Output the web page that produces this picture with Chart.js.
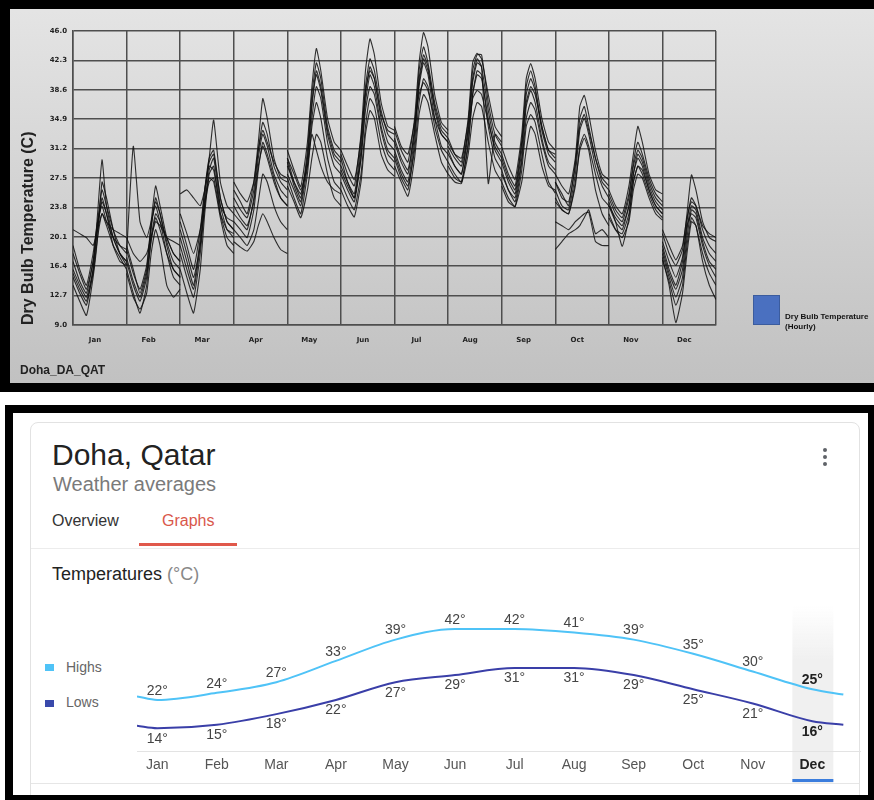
<!DOCTYPE html>
<html lang="en">
<head>
<meta charset="UTF-8" />
<title>Doha - Dry bulb temperature and weather averages</title>
<script src="https://cdn.jsdelivr.net/npm/chart.js@4.4.1/dist/chart.umd.min.js"></script>
<style>
  html, body { margin: 0; padding: 0; background: #fff; }
  body { width: 874px; height: 800px; position: relative; overflow: hidden; font-family: "Liberation Sans", Arial, sans-serif; }
  .abs { position: absolute; white-space: nowrap; }
  #topBg { left: 0; top: 0; width: 874px; height: 392px; background: linear-gradient(#e5e5e5, #c0c0c0); }
  #topFrame { left: 0; top: 0; width: 874px; height: 392px; box-sizing: border-box; border-left: 10px solid #000; border-top: 9px solid #000; border-bottom: 9px solid #000; z-index: 10; }
  #dbtChart { left: 10px; top: 9px; }
  #siteName { left: 20px; top: 363px; font: bold 12px "Liberation Sans", Arial, sans-serif; color: #222; }
  #dbtKey { left: 753px; top: 295px; width: 27px; height: 30px; background: #4a70c0; border: 1px solid #3b5c9e; box-sizing: border-box; }
  #dbtKeyText { left: 785px; top: 312px; font: bold 8px/10px "Liberation Sans", Arial, sans-serif; color: #111; }

  #botBg { left: 5px; top: 405px; width: 869px; height: 395px; background: #fff; }
  #botFrame { left: 5px; top: 405px; width: 869px; height: 395px; box-sizing: border-box; border-top: 8px solid #000; border-left: 8px solid #000; border-right: 6px solid #000; border-bottom: 5px solid #000; z-index: 10; }
  #card { left: 30px; top: 422px; width: 830px; height: 390px; box-sizing: border-box; border: 1px solid #e2e2e2; border-radius: 8px; }
  #city { left: 52px; top: 440px; font-size: 30px; line-height: 30px; color: #222; }
  #sub { left: 53px; top: 474px; font-size: 20px; line-height: 20px; color: #7a7a7a; }
  #tabOverview { left: 52px; top: 513px; font-size: 16px; line-height: 16px; color: #333; }
  #tabGraphs { left: 162px; top: 513px; font-size: 16px; line-height: 16px; color: #d9574b; }
  #tabLine { left: 139px; top: 543px; width: 98px; height: 3px; background: #e0584b; }
  #divider { left: 31px; top: 548px; width: 828px; height: 1px; background: #ececec; }
  #tempTitle { left: 52px; top: 565px; font-size: 18px; line-height: 18px; color: #222; }
  #tempTitle span { color: #888; }
  .dot { width: 4px; height: 4px; border-radius: 50%; background: #5f6368; left: 823px; }
  .key { width: 9px; height: 7px; left: 45px; }
  .keyText { left: 66px; font-size: 14px; line-height: 14px; color: #666; }
  #bottomRule { left: 31px; top: 783px; width: 828px; height: 1px; background: #e6e6e6; }
  #avgChart { left: 130px; top: 590px; }
</style>
</head>
<body>
  <!-- top panel: hourly dry bulb temperature, every day overlaid per month -->
  <div id="topBg" class="abs"></div>
  <canvas id="dbtChart" class="abs" width="864" height="374"></canvas>
  <div id="siteName" class="abs">Doha_DA_QAT</div>
  <div id="dbtKey" class="abs"></div>
  <div id="dbtKeyText" class="abs">Dry Bulb Temperature<br>(Hourly)</div>
  <div id="topFrame" class="abs"></div>

  <!-- bottom panel: weather averages card -->
  <div id="botBg" class="abs"></div>
  <div id="card" class="abs"></div>
  <div id="city" class="abs">Doha, Qatar</div>
  <div id="sub" class="abs">Weather averages</div>
  <div id="tabOverview" class="abs">Overview</div>
  <div id="tabGraphs" class="abs">Graphs</div>
  <div id="tabLine" class="abs"></div>
  <div id="divider" class="abs"></div>
  <div id="tempTitle" class="abs">Temperatures <span>(°C)</span></div>
  <div class="abs dot" style="top:448px"></div>
  <div class="abs dot" style="top:455px"></div>
  <div class="abs dot" style="top:462px"></div>
  <div class="abs key" style="top:664px;background:#4fc3f7"></div>
  <div class="abs keyText" style="top:660px">Highs</div>
  <div class="abs key" style="top:700px;background:#3949ab"></div>
  <div class="abs keyText" style="top:695px">Lows</div>
  <div id="bottomRule" class="abs"></div>
  <canvas id="avgChart" class="abs" width="735" height="200"></canvas>
  <div id="botFrame" class="abs"></div>

<script>
  // ---- top chart data: hour of day and one row per sample day ----
  const hours = [0, 3, 6, 9, 11, 13, 15, 18, 21, 24];
  const monthNames = ['Jan', 'Feb', 'Mar', 'Apr', 'May', 'Jun', 'Jul', 'Aug', 'Sep', 'Oct', 'Nov', 'Dec'];
  const yTicks = [9.0, 12.7, 16.4, 20.1, 23.8, 27.5, 31.2, 34.9, 38.6, 42.3, 46.0];

  const janDays = [
    [17, 14.5, 13, 17, 22, 26, 24, 21, 19, 18],
    [15, 13, 11.5, 16, 21, 25, 23, 20, 18, 17],
    [19, 16, 14, 18, 22, 24, 22, 20, 19, 18.5],
    [14, 12, 10.2, 15, 20, 27, 25, 21, 18, 16.5],
    [21, 20.5, 20, 19, 21, 23, 22, 21, 20.5, 20],
    [16, 14, 12.5, 16, 23, 29.8, 24, 20, 18, 17],
    [18, 15.5, 13.5, 17, 21.5, 24.5, 23, 19, 17, 16.5],
    [15.5, 13.5, 12, 15.5, 20, 23, 21.5, 19, 17.5, 16]
  ];
  const febDays = [
    [18, 31.5, 22, 20, 22, 24, 22, 20, 18, 17],
    [17, 14, 12, 15, 21, 25, 23, 19, 16, 15],
    [19, 16, 13, 16, 22, 26.5, 24, 20, 18, 17],
    [16, 13, 10.5, 14, 20, 23, 22, 18, 15, 14],
    [20, 18, 17, 18, 20, 22, 21.5, 20, 19.5, 19],
    [15.5, 12.5, 11, 13, 18, 21, 19, 14, 12.5, 13.5],
    [18.5, 15.5, 13.5, 16.5, 21.5, 24.5, 23, 19.5, 17, 16],
    [17.5, 14.5, 12.5, 15.5, 19.5, 22.5, 21, 18, 16, 15]
  ];
  const marDays = [
    [20, 17, 14, 20, 26, 30, 31, 25, 22, 21],
    [18, 15, 12.5, 18, 24, 28.5, 30, 24, 21, 20],
    [22, 19, 16, 21, 26, 29, 28.5, 24, 22.5, 22],
    [16, 13, 10.5, 16, 23, 28, 29, 23, 20, 19],
    [25.5, 26, 25, 24, 26, 30, 34.8, 27, 24, 23],
    [21, 18, 15, 19, 24, 27, 27.5, 23, 21, 20.5],
    [19, 16, 13.5, 19, 25, 29.5, 30.5, 25, 22, 21],
    [23, 20.5, 18, 21, 24.5, 27.5, 27, 22.5, 19, 18]
  ];
  const aprDays = [
    [25, 23.5, 22.5, 26, 31, 34.5, 33, 29, 27, 26],
    [23, 22, 21, 25, 30, 33, 31.5, 28, 26, 25],
    [26, 24.5, 23, 27, 32, 37.5, 35, 30, 27.5, 27],
    [24, 22.5, 21.5, 24.5, 29, 31.5, 30, 27, 25, 24],
    [19.5, 18.8, 18.3, 19.5, 21.5, 23, 22, 20, 18.5, 18],
    [22, 21, 20, 23.5, 28.5, 32, 30.5, 27.5, 25, 24],
    [27, 25.5, 24.5, 27, 31, 33.5, 32, 29.5, 28, 27.5],
    [21, 20, 19, 21, 24.5, 28, 27, 24, 22, 21]
  ];
  const mayDays = [
    [30, 27, 25, 31, 38, 42, 40, 34, 31, 30],
    [28, 26, 24, 29, 35, 39, 37.5, 32, 29, 28],
    [31, 28.5, 26.4, 32, 39, 43.8, 41, 35, 32, 31],
    [27.5, 25, 23, 28, 34, 37, 35, 30, 27, 26],
    [29, 27, 25.5, 30, 36.5, 40.5, 38.5, 33, 30, 29],
    [26.5, 24.5, 22.5, 26, 30, 33, 32, 28, 25, 24],
    [30, 28, 26, 29, 33, 31, 29, 27, 26, 25.5],
    [29.5, 26.5, 24.5, 30, 37, 41, 39, 33.5, 30.5, 29.5]
  ];
  const junDays = [
    [30, 27, 25.5, 32, 39, 42.5, 41, 36, 33, 32],
    [28, 26, 24.5, 30, 37, 40.5, 39, 34, 31, 30],
    [30.5, 28, 26.5, 33, 41, 45, 43, 37, 34, 33.5],
    [27, 25, 23.5, 28, 34, 37.5, 36.5, 32, 29.5, 28.5],
    [29, 27, 25, 31, 38, 41.5, 40, 35, 32, 31],
    [26, 24, 22.6, 27, 33, 36, 35, 30.5, 28.5, 27.7],
    [31, 29, 27.3, 32.5, 38.5, 41, 40, 35.5, 33.5, 33],
    [28.5, 26.5, 25, 30, 36, 39, 38, 33.5, 30.5, 29.5]
  ];
  const julDays = [
    [32, 29.5, 28, 34, 41, 44, 42, 37, 34, 33],
    [30, 27.5, 26, 32, 39, 42, 40.5, 35, 31.5, 30.5],
    [33.5, 31, 29.5, 35, 42, 45.8, 44, 38, 34.5, 33.5],
    [29, 27, 25.2, 30, 35.5, 38, 37, 33, 29.5, 28],
    [31, 28.5, 27, 33, 40, 43, 41.5, 36, 33, 32],
    [34, 31.5, 30.5, 34.5, 38, 39.5, 38.5, 35, 33, 32],
    [30.5, 28, 26.5, 31, 37, 40, 39, 34, 31, 29.5],
    [32.5, 30, 28.5, 33.5, 39.5, 42.5, 41, 36.5, 33.5, 32.5]
  ];
  const augDays = [
    [31, 29, 28, 34, 41, 43, 43, 37, 33, 31.5],
    [29.5, 28, 27, 32, 38, 40.5, 40, 35, 31, 29.5],
    [32.5, 30.5, 29.5, 35, 42, 43.2, 42.5, 38, 34, 32.7],
    [28, 27, 26.8, 30.5, 35, 37, 36.5, 32, 28.5, 27],
    [30.5, 29, 28, 33, 39.5, 42, 41.5, 36, 32, 30.5],
    [31.5, 30, 29, 33.5, 37.5, 38.5, 38, 34.5, 31.5, 30],
    [29, 27.5, 27, 31.5, 38, 41, 40.5, 34, 30, 28.5],
    [32, 30.5, 30, 34.5, 40, 42.5, 41.5, 26.8, 33, 32]
  ];
  const sepDays = [
    [30, 27.5, 26, 32, 39, 41, 39, 34, 31, 30],
    [28.5, 26, 25, 30, 36.5, 38.5, 37, 32.5, 29.5, 28.5],
    [31.4, 29, 27.3, 33, 40, 41.9, 40, 35, 32, 31],
    [27, 25, 23.9, 28.5, 34, 35.5, 34.5, 30.5, 27, 25.6],
    [29.5, 27, 25.5, 31, 38, 40, 38.5, 33.5, 30.5, 29.5],
    [26.5, 24.5, 23.9, 27, 31, 34, 33, 29, 26.5, 26],
    [30.5, 28, 26.5, 32, 37, 39, 38, 34, 31, 30.5],
    [28, 26, 24.5, 29.5, 35, 37, 36, 32, 29, 28]
  ];
  const octDays = [
    [27, 25, 24.5, 29, 35, 36.5, 34, 30, 27.5, 26.5],
    [26, 24, 23.5, 28, 33.5, 35, 33, 29, 26.5, 25],
    [28, 26.5, 25.5, 30, 36.5, 37.9, 35.5, 31, 28, 27.3],
    [25, 23.5, 23, 26.5, 31.5, 33, 31.5, 28, 25, 24],
    [18.5, 19.5, 20.5, 21, 21.5, 22.5, 23.5, 20.5, 21, 20],
    [22, 21.5, 21, 22, 22.5, 23, 23.2, 19.5, 19, 19],
    [27, 25.5, 24, 29.5, 34, 35.5, 33.5, 30, 27, 26],
    [24.5, 23.5, 23, 27, 31, 32.5, 31, 26, 23, 21.5]
  ];
  const novDays = [
    [25, 23, 22, 25, 29, 31, 30, 27, 25, 24],
    [24, 22, 21, 24, 28, 30, 29, 26, 24, 23],
    [26, 24, 23, 26.5, 30.5, 34, 32, 28, 26, 25.5],
    [23, 21, 20, 22, 26, 28, 27.5, 25, 23, 22.2],
    [24.5, 22, 18.9, 22.5, 27, 29, 28.5, 26, 24, 23],
    [25.5, 23.5, 22.5, 25.5, 29.5, 32, 30.5, 27.5, 25.5, 24.5],
    [22.5, 21, 20.5, 23, 27, 29, 28, 25.5, 23.5, 22.5],
    [24, 22.5, 21.5, 24, 28, 30.5, 29.5, 26.5, 24.5, 23.5]
  ];
  const decDays = [
    [19, 16, 14, 17, 22, 25, 24, 21, 19, 18],
    [18, 15, 12.5, 15, 20, 23.5, 23, 19.5, 17, 16],
    [20.5, 18, 16.5, 18.5, 23, 27.9, 26, 22, 20, 19.5],
    [17.5, 14, 9.3, 13, 18, 22, 21.5, 17, 14, 12.2],
    [21, 19, 17.2, 19, 22.5, 24.5, 24, 21.5, 20.5, 20],
    [18.5, 15.5, 13.5, 16, 21, 24, 23.5, 20, 18, 17],
    [19.5, 17, 15, 17.5, 21.5, 23, 22.5, 19, 16.5, 15],
    [17.2, 14.5, 11.5, 14, 19, 22.5, 21.5, 18, 15.5, 14]
  ];
  const dayTraces = [janDays, febDays, marDays, aprDays, mayDays, junDays,
                     julDays, augDays, sepDays, octDays, novDays, decDays];

  // ---- bottom chart data: monthly averages (deg C) ----
  const highs = [22, 24, 27, 33, 39, 42, 42, 41, 39, 35, 30, 25];
  const lows = [14, 15, 18, 22, 27, 29, 31, 31, 29, 25, 21, 16];
  // line runs a little past Jan and Dec on both sides
  const edgeX = [-0.34, 11.52];
  const highsEdge = [23, 23.5];
  const lowsEdge = [14.7, 15];

  // ---- top chart ----
  const traceSets = [];
  dayTraces.forEach((days, m) => {
    days.forEach(day => {
      traceSets.push({
        data: day.map((t, i) => ({ x: m + hours[i] / 24, y: t })),
        borderColor: 'rgba(15,15,15,0.85)',
        borderWidth: 1.1,
        pointRadius: 0,
        tension: 0.15,
        fill: false
      });
    });
  });

  const gridCol = '#4e4e4e';
  const smallFont = { family: 'DejaVu Sans', size: 7, weight: 'bold' };

  new Chart(document.getElementById('dbtChart'), {
    type: 'line',
    data: { datasets: traceSets },
    options: {
      responsive: false,
      animation: false,
      events: [],
      layout: { padding: { left: 0, top: 22, right: 158, bottom: 34 } },
      plugins: { legend: { display: false }, tooltip: { enabled: false } },
      scales: {
        x: {
          type: 'linear', min: 0, max: 12,
          afterBuildTicks: s => { s.ticks = monthNames.map((_, i) => ({ value: i })).concat([{ value: 12 }]); },
          afterFit: s => { s.height = 24; },
          grid: { color: gridCol, lineWidth: 1.5, drawTicks: false },
          border: { color: gridCol, width: 1.5 },
          ticks: {
            callback: v => monthNames[v] || '',
            labelOffset: 22, padding: 11, autoSkip: false, maxRotation: 0,
            color: '#222', font: smallFont
          }
        },
        y: {
          min: 9, max: 46,
          afterBuildTicks: s => { s.ticks = yTicks.map(v => ({ value: v })); },
          afterFit: s => { s.width = 63; },
          grid: { color: gridCol, lineWidth: 1.5, drawTicks: false },
          border: { color: gridCol, width: 1.5 },
          ticks: { callback: v => v.toFixed(1), padding: 6, color: '#222', font: smallFont },
          title: {
            display: true, align: 'start', text: 'Dry Bulb Temperature (C)',
            color: '#222', padding: { top: 9, bottom: 0 },
            font: { family: 'Liberation Sans', size: 16, weight: 'bold' }
          }
        }
      }
    }
  });

  // ---- bottom chart ----
  const highPts = [{ x: edgeX[0], y: highsEdge[0] }]
    .concat(highs.map((v, i) => ({ x: i, y: v })), [{ x: edgeX[1], y: highsEdge[1] }]);
  const lowPts = [{ x: edgeX[0], y: lowsEdge[0] }]
    .concat(lows.map((v, i) => ({ x: i, y: v })), [{ x: edgeX[1], y: lowsEdge[1] }]);

  // grey band + blue bar behind the selected month (Dec)
  const decHighlight = {
    id: 'decHighlight',
    beforeDraw(chart) {
      const { ctx, scales: { x } } = chart;
      const cx = x.getPixelForValue(11);
      const g = ctx.createLinearGradient(0, 15, 0, 70);
      g.addColorStop(0, 'rgba(240,240,240,0)');
      g.addColorStop(1, 'rgba(240,240,240,1)');
      ctx.save();
      ctx.fillStyle = g;
      ctx.fillRect(cx - 20, 15, 41, 178);
      ctx.restore();
    },
    afterDraw(chart) {
      const { ctx, scales: { x } } = chart;
      const cx = x.getPixelForValue(11);
      ctx.save();
      ctx.fillStyle = '#3b7ddd';
      ctx.fillRect(cx - 20, 189, 41, 3);
      ctx.restore();
    }
  };

  // value labels: highs above the line, lows below
  const pointLabels = {
    id: 'pointLabels',
    afterDatasetsDraw(chart) {
      const { ctx, scales: { x, y } } = chart;
      ctx.save();
      ctx.textAlign = 'center';
      ctx.textBaseline = 'middle';
      [[highs, -9], [lows, 10.5]].forEach(([vals, dy]) => {
        vals.forEach((v, i) => {
          ctx.font = (i === 11 ? 'bold ' : '') + '14px "Liberation Sans", Arial, sans-serif';
          ctx.fillStyle = i === 11 ? '#222' : '#444';
          ctx.fillText(v + '°', x.getPixelForValue(i), y.getPixelForValue(v) + dy);
        });
      });
      ctx.restore();
    }
  };

  new Chart(document.getElementById('avgChart'), {
    type: 'line',
    data: {
      datasets: [
        { label: 'Highs', data: highPts, borderColor: '#4fc3f7', borderWidth: 2, pointRadius: 0, cubicInterpolationMode: 'monotone' },
        { label: 'Lows', data: lowPts, borderColor: '#3a3fa8', borderWidth: 2, pointRadius: 0, cubicInterpolationMode: 'monotone' }
      ]
    },
    options: {
      responsive: false,
      animation: false,
      events: [],
      layout: { padding: { left: 7, top: 17, right: 5, bottom: 0 } },
      plugins: { legend: { display: false }, tooltip: { enabled: false } },
      scales: {
        x: {
          type: 'linear', min: -0.34, max: 11.8,
          afterBuildTicks: s => { s.ticks = monthNames.map((_, i) => ({ value: i })); },
          afterFit: s => { s.height = 39; },
          grid: { display: false, drawTicks: false },
          border: { color: '#e3e3e3', width: 1 },
          ticks: {
            callback: v => monthNames[v],
            padding: 6, autoSkip: false, maxRotation: 0,
            color: c => c.index === 11 ? '#222' : '#555',
            font: c => ({ family: 'Liberation Sans', size: 14, weight: c.index === 11 ? 'bold' : 'normal' })
          }
        },
        y: { display: false, min: 7.6, max: 48.2 }
      }
    },
    plugins: [decHighlight, pointLabels]
  });
</script>
</body>
</html>
